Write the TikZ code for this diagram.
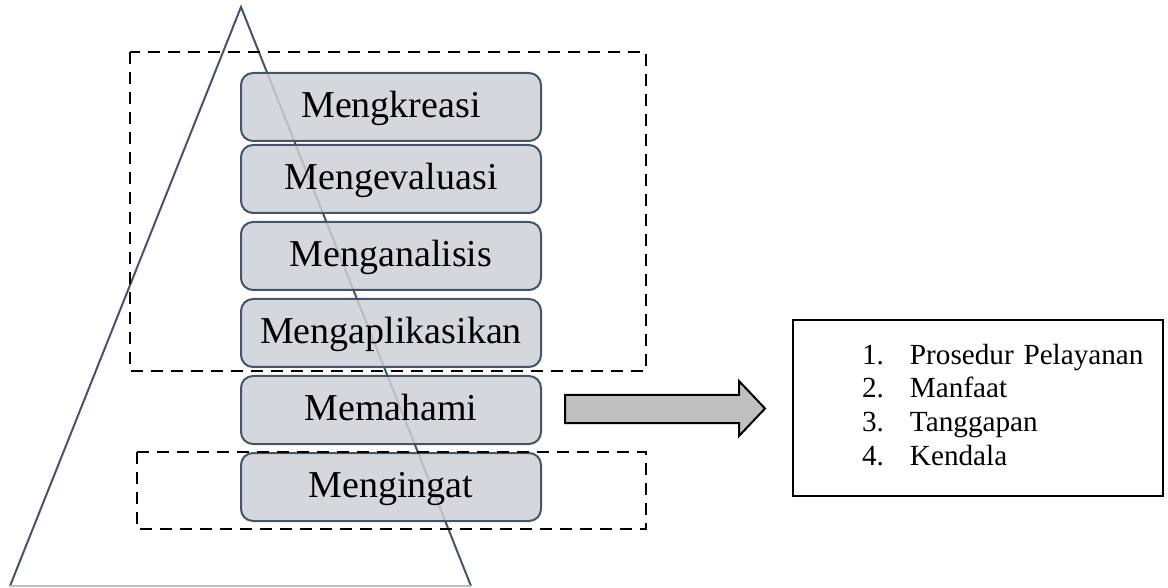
\documentclass[tikz,border=0pt]{standalone}
\usepackage{fontspec}
\setmainfont{Liberation Serif}
\usepackage{array}
\usetikzlibrary{positioning}

\definecolor{slate}{HTML}{44546A}
\definecolor{boxgray}{HTML}{CDD0D5}
\definecolor{arrowgray}{HTML}{C0C0C0}
\definecolor{basegray}{HTML}{BCC0C6}

\begin{document}
\begin{tikzpicture}[
    x=0.5pt, y=-0.5pt,
    node distance=3.5pt,
    level/.style={
        rectangle,
        draw=slate,
        line width=1pt,
        rounded corners=6pt,
        fill=boxgray,
        fill opacity=0.85,
        text opacity=1,
        minimum width=150pt,
        minimum height=34pt,
        inner sep=0pt,
        text height=13.3pt,
        text depth=2.9pt,
        font=\fontsize{19}{21}\selectfont
    },
    dashbox/.style={
        draw,
        line width=1pt,
        dash pattern=on 6pt off 4pt
    },
    side/.style={
        draw=slate,
        line width=1pt
    },
    listbox/.style={
        rectangle,
        draw,
        line width=1pt,
        minimum width=185pt,
        minimum height=88pt,
        inner sep=0pt,
        text width=185pt,
        align=left,
        font=\fontsize{14.6}{16.8}\selectfont
    }
]
\useasboundingbox (0,0) rectangle (1168,588);

% Pyramid
\coordinate (apex) at (241,7);
\coordinate (baseL) at (10,586);
\coordinate (baseR) at (471,586);
\draw [side] (baseL) -- (apex) -- (baseR);
\draw [line width=1pt, basegray] (baseL) -- (baseR);

% Levels
\node [level] (kreasi) at (391,107) {Mengkreasi};
\node [level, below=1pt of kreasi] (evaluasi) {Mengevaluasi};
\node [level, below=of evaluasi] (analisis) {Menganalisis};
\node [level, below=of analisis] (aplikasi) {Mengaplikasikan};
\node [level, below=of aplikasi] (paham) {Memahami};
\node [level, below=of paham] (ingat) {Mengingat};

% Dashed groups
\draw [dashbox] (130,52) rectangle (646,371);
\draw [dashbox] (137,452) rectangle (646,529);

% Block arrow
\draw [line width=1pt, fill=arrowgray, line join=miter]
    (565,395) -- (739,395) -- (739,381) -- (765,408.5)
    -- (739,436) -- (739,423) -- (565,423) -- cycle;

% List
\node [listbox] (list) at (978,408) {%
    \begin{tabular}{@{\hspace*{34.5pt}}p{24pt}@{}l@{}}
    1. & Prosedur Pelayanan\\
    2. & Manfaat\\
    3. & Tanggapan\\
    4. & Kendala
    \end{tabular}};

\end{tikzpicture}
\end{document}
